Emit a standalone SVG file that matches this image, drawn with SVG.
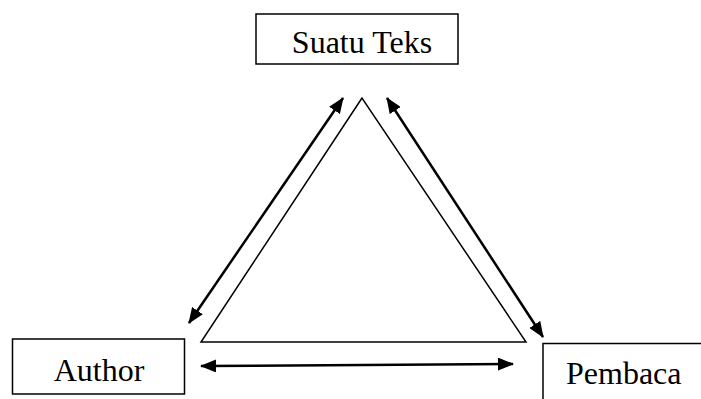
<svg xmlns="http://www.w3.org/2000/svg" width="701" height="399" viewBox="0 0 701 399">
<defs>
<style>
.box{fill:#fff;stroke:#000;stroke-width:1.5}
.lbl{font-family:"Liberation Serif","Times New Roman",serif;font-size:32px;fill:#000}
.arr{fill:none;stroke:#000;stroke-width:2.5;marker-start:url(#ah);marker-end:url(#ah)}
.tri{fill:none;stroke:#000;stroke-width:1.5;stroke-linejoin:miter}
</style>
<marker id="ah" viewBox="0 0 16 13" refX="15" refY="6.5" markerWidth="16" markerHeight="13" markerUnits="userSpaceOnUse" orient="auto-start-reverse">
<path d="M0,0 L16,6.5 L0,13 Z" fill="#000"/>
</marker>
</defs>
<g id="suatu-teks">
<rect class="box" x="256" y="14" width="202" height="50"/>
<text class="lbl" x="362" y="53" text-anchor="middle">Suatu Teks</text>
</g>
<g id="author">
<rect class="box" x="12.5" y="339" width="172" height="55"/>
<text class="lbl" x="99" y="381" text-anchor="middle">Author</text>
</g>
<g id="pembaca">
<path class="box" d="M543,405 L543,343.5 L710,343.5" fill="none"/>
<text class="lbl" x="566" y="384">Pembaca</text>
</g>
<g id="triangle">
<polygon class="tri" points="362,98 201,342 526,342"/>
</g>
<g id="connectors">
<line class="arr" x1="343" y1="98" x2="189" y2="323"/>
<line class="arr" x1="387" y1="98" x2="543" y2="337"/>
<line class="arr" x1="201" y1="366" x2="513" y2="364"/>
</g>
</svg>
